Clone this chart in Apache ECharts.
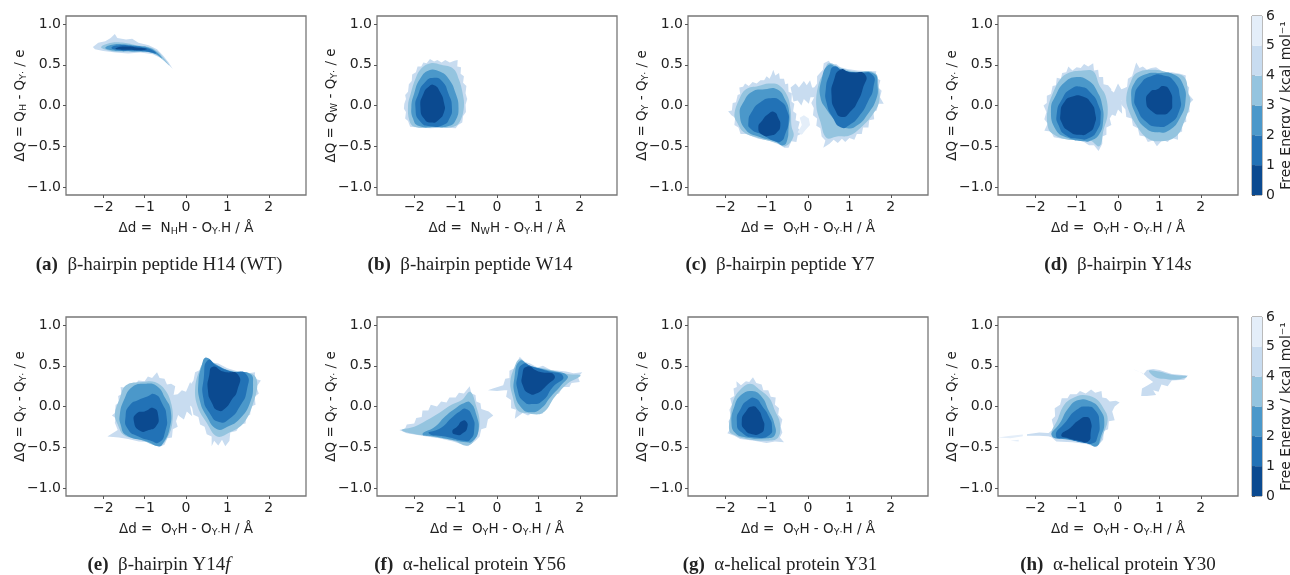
<!DOCTYPE html>
<html>
<head>
<meta charset="utf-8">
<script src="https://cdn.jsdelivr.net/npm/echarts@6/dist/echarts.min.js"></script>
<style>
html,body{margin:0;padding:0;background:#fff;overflow:hidden}
#main{width:1290px;height:575px}
#main canvas{filter:blur(.5px)}
</style>
</head>
<body>
<div id="main"></div>
<script>
// tick labels
const xTicks = [-2, -1, 0, 1, 2];
const yTicks = [-1, -0.5, 0, 0.5, 1];
const barTicks = [0, 1, 2, 3, 4, 5, 6];
// free energy bands, 0-1 first
const bandEdges = [0, 1, 2, 3, 4, 5, 6];
const bandColors = ['#0b4a90', '#2272b6', '#4b98ca', '#94c4df', '#c8dcf0', '#e4eef9'];

// (a) H14
const aL5 = [[-2.25,.72],[-2.12,.77],[-1.95,.79],[-1.82,.83],[-1.72,.88],[-1.66,.83],[-1.45,.81],[-1.3,.82],[-1.15,.77],[-.9,.74],[-.7,.69],[-.55,.61],[-.42,.53],[-.32,.45],[-.42,.5],[-.6,.58],[-.8,.63],[-1.1,.65],[-1.4,.64],[-1.7,.65],[-2,.67],[-2.2,.69]];
const aL4 = [[-2.05,.72],[-1.8,.77],[-1.5,.77],[-1.2,.74],[-.9,.72],[-.7,.67],[-.55,.59],[-.4,.49],[-.55,.56],[-.75,.63],[-1,.66],[-1.3,.66],[-1.6,.66],[-1.9,.68]];
const aL3 = [[-1.95,.71],[-1.75,.75],[-1.45,.75],[-1.15,.73],[-.9,.71],[-.72,.66],[-.58,.58],[-.75,.635],[-1,.66],[-1.3,.665],[-1.6,.67],[-1.8,.68]];
const aL2 = [[-1.8,.71],[-1.6,.74],[-1.3,.73],[-1,.71],[-.8,.675],[-.72,.64],[-.85,.655],[-1.05,.67],[-1.3,.675],[-1.6,.68]];
const aL1 = [[-1.7,.705],[-1.45,.725],[-1.15,.71],[-.95,.695],[-1.1,.68],[-1.4,.685],[-1.65,.69]];

// (b) W14
const bL5 = [[-2.24,.02],[-2.2,.08],[-2.22,.13],[-2.15,.17],[-2.13,.26],[-2.06,.3],[-2.05,.38],[-1.96,.41],[-1.92,.48],[-1.83,.48],[-1.78,.53],[-1.7,.52],[-1.62,.57],[-1.52,.54],[-1.44,.56],[-1.34,.53],[-1.25,.56],[-1.14,.53],[-1.03,.55],[-.95,.56],[-.96,.48],[-.87,.47],[-.88,.39],[-.8,.36],[-.82,.28],[-.74,.24],[-.76,.15],[-.72,.08],[-.76,.01],[-.75,-.08],[-.82,-.13],[-.84,-.21],[-.94,-.24],[-1,-.28],[-1.3,-.27],[-1.6,-.28],[-1.9,-.27],[-2.1,-.26],[-2.15,-.19],[-2.22,-.16],[-2.2,-.08],[-2.25,-.04]];
const bL4 = [[-2.15,0],[-2.1,.12],[-1.97,.33],[-1.82,.46],[-1.6,.52],[-1.35,.5],[-1.05,.45],[-.92,.32],[-.83,.15],[-.8,-.02],[-.9,-.2],[-1.05,-.26],[-1.5,-.27],[-2,-.26],[-2.12,-.18]];
const bL3 = [[-2.07,-.02],[-2,.15],[-1.87,.32],[-1.65,.43],[-1.4,.42],[-1.17,.33],[-1,.15],[-.93,-.03],[-1,-.18],[-1.15,-.25],[-1.5,-.265],[-1.9,-.25],[-2.03,-.16]];
const bL2 = [[-1.97,-.03],[-1.9,.14],[-1.75,.28],[-1.52,.34],[-1.33,.3],[-1.17,.14],[-1.09,-.02],[-1.15,-.16],[-1.3,-.24],[-1.6,-.255],[-1.85,-.2]];
const bL1 = [[-1.85,-.02],[-1.78,.14],[-1.65,.23],[-1.52,.25],[-1.38,.17],[-1.28,.03],[-1.28,-.08],[-1.42,-.18],[-1.58,-.21],[-1.75,-.17]];

// (c) Y7
const cL5Left = [[-1.93,-.07],[-1.84,-.06],[-1.82,.03],[-1.74,.04],[-1.7,.13],[-1.64,.14],[-1.66,.22],[-1.57,.23],[-1.52,.27],[-1.43,.24],[-1.34,.29],[-1.24,.27],[-1.15,.31],[-1.06,.31],[-1,.36],[-.93,.33],[-.88,.38],[-.84,.44],[-.79,.37],[-.7,.4],[-.68,.33],[-.58,.33],[-.55,.26],[-.48,.27],[-.47,.17],[-.39,.15],[-.4,.05],[-.33,.02],[-.36,-.07],[-.28,-.1],[-.3,-.18],[-.2,-.2],[-.24,-.28],[-.13,-.34],[-.25,-.37],[-.28,-.45],[-.4,-.44],[-.47,-.52],[-.57,-.52],[-.7,-.48],[-.95,-.43],[-1.2,-.41],[-1.5,-.35],[-1.63,-.35],[-1.68,-.27],[-1.78,-.24],[-1.76,-.15],[-1.85,-.12]];
const cL5Right = [[.5,.55],[.58,.5],[.68,.51],[.78,.47],[.95,.45],[1.2,.43],[1.45,.42],[1.65,.42],[1.63,.34],[1.75,.31],[1.7,.22],[1.78,.18],[1.74,.1],[1.83,.02],[1.7,.02],[1.66,-.06],[1.58,-.08],[1.6,-.17],[1.48,-.18],[1.46,-.27],[1.33,-.27],[1.3,-.35],[1.18,-.35],[1.12,-.42],[1,-.4],[.9,-.45],[.82,-.41],[.72,-.46],[.62,-.42],[.52,-.47],[.37,-.52],[.42,-.43],[.33,-.38],[.3,-.28],[.2,-.25],[.22,-.16],[.12,-.12],[.14,-.03],[.08,.03],[.15,.1],[.12,.2],[.22,.27],[.22,.36],[.36,.44],[.38,.52]];
const cBridgeTop = [[-.42,.22],[-.3,.27],[-.22,.22],[-.1,.3],[-.03,.25],[.05,.31],[.1,.22],[.18,.22],[.16,.1],[.06,.1],[.02,.02],[-.1,.08],[-.16,0],[-.25,.06],[-.35,.05]];
const cBridgeLow = [[-.2,-.15],[-.1,-.12],[.02,-.16],[.05,-.24],[-.06,-.3],[-.15,-.36],[-.25,-.33],[-.15,-.24]];
const cL4Left = [[-1.78,-.12],[-1.66,.08],[-1.5,.2],[-1.2,.24],[-.95,.27],[-.7,.25],[-.5,.12],[-.42,-.05],[-.4,-.25],[-.35,-.38],[-.55,-.5],[-.75,-.46],[-1.2,-.4],[-1.55,-.33],[-1.7,-.22]];
const cL4Right = [[.5,.52],[.8,.46],[1.1,.42],[1.62,.4],[1.7,.25],[1.72,.05],[1.55,-.12],[1.3,-.26],[1,-.37],[.7,-.38],[.45,-.4],[.3,-.2],[.2,0],[.25,.25],[.4,.42]];
const cL3Left = [[-1.65,-.1],[-1.55,.05],[-1.35,.17],[-1.05,.2],[-.75,.2],[-.55,.07],[-.45,-.1],[-.47,-.28],[-.5,-.42],[-.6,-.49],[-.8,-.44],[-1.2,-.38],[-1.5,-.3]];
const cL3Right = [[.5,.5],[.75,.45],[1.1,.41],[1.6,.39],[1.68,.25],[1.65,.08],[1.45,-.1],[1.2,-.24],[.95,-.28],[.7,-.2],[.45,-.05],[.3,.1],[.32,.3]];
const cL2Left = [[-1.44,-.2],[-1.35,-.07],[-1.15,.04],[-.9,.09],[-.65,.05],[-.5,-.07],[-.47,-.2],[-.55,-.35],[-.65,-.44],[-.8,-.44],[-1.1,-.36],[-1.38,-.29]];
const cL2Right = [[.63,.48],[.85,.43],[1.2,.4],[1.55,.38],[1.58,.22],[1.45,.05],[1.25,-.12],[1,-.24],[.8,-.27],[.6,-.15],[.45,.03],[.43,.2],[.52,.38]];
const cL1Left = [[-1.2,-.27],[-1.1,-.18],[-.95,-.1],[-.82,-.08],[-.72,-.15],[-.67,-.25],[-.75,-.33],[-.9,-.37],[-1.1,-.36]];
const cL1Right = [[.78,.44],[1,.41],[1.38,.38],[1.32,.2],[1.2,.05],[1.05,-.06],[.82,-.14],[.65,-.05],[.57,.12],[.62,.3]];

// (d) Y14s
const dL5Left = [[-1.8,0],[-1.72,.03],[-1.72,.12],[-1.62,.14],[-1.58,.24],[-1.5,.25],[-1.48,.34],[-1.38,.33],[-1.35,.4],[-1.25,.41],[-1.2,.48],[-1.1,.43],[-1,.47],[-.9,.46],[-.82,.51],[-.72,.48],[-.6,.52],[-.58,.43],[-.48,.44],[-.46,.35],[-.36,.35],[-.35,.26],[-.24,.25],[-.16,.2],[-.2,.12],[-.12,.07],[-.18,-.02],[-.13,-.1],[-.2,-.16],[-.16,-.24],[-.28,-.27],[-.28,-.36],[-.38,-.38],[-.38,-.47],[-.47,-.56],[-.58,-.49],[-.7,-.49],[-.85,-.44],[-1.1,-.42],[-1.35,-.41],[-1.55,-.39],[-1.62,-.32],[-1.78,-.31],[-1.7,-.22],[-1.78,-.17],[-1.73,-.08]];
const dL5Right = [[.44,.53],[.52,.46],[.6,.48],[.7,.44],[.8,.46],[.92,.47],[1.1,.41],[1.3,.41],[1.5,.39],[1.64,.37],[1.62,.27],[1.72,.22],[1.7,.14],[1.82,.07],[1.72,.02],[1.73,-.08],[1.64,-.1],[1.65,-.2],[1.55,-.22],[1.55,-.32],[1.45,-.34],[1.45,-.42],[1.3,-.4],[1.2,-.45],[1.08,-.42],[.94,-.5],[.85,-.43],[.72,-.45],[.65,-.38],[.52,-.37],[.48,-.28],[.36,-.25],[.33,-.16],[.2,-.14],[.18,-.05],[.05,.03],[.14,.1],[.12,.2],[.22,.23],[.24,.33],[.34,.36]];
const dBridge = [[-.4,.2],[-.28,.17],[-.2,.2],[-.1,.16],[0,.27],[.08,.2],[.2,.22],[.16,.04],[.08,.06],[.1,-.1],[0,-.05],[-.06,-.13],[-.2,-.1],[-.35,-.05]];
const dL4Left = [[-1.7,-.05],[-1.55,.18],[-1.4,.32],[-1.2,.4],[-.85,.43],[-.6,.42],[-.45,.25],[-.3,.12],[-.25,-.1],[-.35,-.3],[-.45,-.5],[-.7,-.42],[-1.2,-.42],[-1.6,-.34],[-1.7,-.25]];
const dL4Right = [[.45,.4],[.85,.44],[1.25,.4],[1.6,.35],[1.7,.15],[1.75,.05],[1.6,-.2],[1.4,-.38],[1,-.44],[.7,-.4],[.45,-.25],[.25,-.05],[.2,.1],[.3,.28]];
const dL3Left = [[-1.62,-.05],[-1.5,.13],[-1.3,.28],[-1,.35],[-.7,.3],[-.5,.17],[-.38,0],[-.36,-.2],[-.45,-.35],[-.65,-.43],[-.85,-.44],[-1.2,-.4],[-1.5,-.3]];
const dL3Right = [[.4,.28],[.65,.38],[1,.4],[1.35,.38],[1.58,.25],[1.63,.05],[1.5,-.15],[1.25,-.3],[.95,-.33],[.65,-.27],[.42,-.1],[.32,.1]];
const dL2Left = [[-1.48,-.1],[-1.35,.08],[-1.15,.2],[-.9,.23],[-.65,.15],[-.47,0],[-.42,-.15],[-.5,-.3],[-.7,-.4],[-.95,-.41],[-1.25,-.37],[-1.43,-.25]];
const dL2Right = [[.4,.1],[.55,.27],[.8,.36],[1.1,.37],[1.35,.3],[1.5,.1],[1.47,-.08],[1.25,-.22],[.95,-.26],[.68,-.2],[.47,-.05]];
const dL1Left = [[-1.39,-.1],[-1.3,.04],[-1.1,.11],[-.85,.11],[-.65,.03],[-.55,-.1],[-.56,-.22],[-.7,-.33],[-.95,-.36],[-1.2,-.31],[-1.35,-.22]];
const dL1Right = [[.68,.05],[.78,.17],[.95,.2],[1.1,.24],[1.25,.18],[1.31,.03],[1.25,-.07],[1.05,-.11],[.82,-.07]];

// (e) Y14f
const eL5Left = [[-1.79,-.11],[-1.72,-.08],[-1.7,.02],[-1.62,.04],[-1.64,.13],[-1.56,.15],[-1.58,.24],[-1.46,.23],[-1.38,.28],[-1.25,.26],[-1.15,.32],[-1,.31],[-.92,.37],[-.82,.35],[-.7,.42],[-.64,.35],[-.52,.34],[-.46,.27],[-.36,.28],[-.26,.25],[-.3,.14],[-.22,.08],[-.26,-.02],[-.18,-.09],[-.24,-.18],[-.2,-.25],[-.32,-.28],[-.34,-.38],[-.45,-.39],[-.52,-.47],[-.66,-.5],[-.85,-.44],[-1.14,-.43],[-1.4,-.4],[-1.62,-.38],[-1.9,-.37],[-1.65,-.29],[-1.72,-.2],[-1.7,-.14]];
const eL5Right = [[.47,.61],[.58,.58],[.64,.54],[.78,.53],[1,.47],[1.2,.44],[1.5,.41],[1.67,.42],[1.66,.34],[1.81,.32],[1.7,.24],[1.76,.16],[1.66,.12],[1.68,.02],[1.57,0],[1.55,-.1],[1.45,-.12],[1.44,-.21],[1.3,-.22],[1.22,-.3],[1.07,-.32],[1.05,-.42],[.95,-.49],[.87,-.41],[.78,-.48],[.68,-.42],[.62,-.49],[.62,-.37],[.5,-.34],[.45,-.25],[.34,-.22],[.3,-.13],[.18,-.1],[.15,-.02],[.05,.08],[.14,.15],[.1,.26],[.18,.32],[.22,.42],[.34,.45]];
const eBridge = [[-.32,.14],[-.2,.15],[-.1,.2],[0,.18],[.1,.3],[.2,.2],[.18,.05],[.1,0],[.15,-.12],[.02,-.06],[-.05,-.16],[-.16,-.12],[-.3,-.05]];
const eL4Left = [[-1.72,-.1],[-1.6,.1],[-1.45,.26],[-1.05,.3],[-.75,.3],[-.5,.2],[-.35,.02],[-.33,-.2],[-.45,-.38],[-.65,-.48],[-1.1,-.41],[-1.5,-.35],[-1.65,-.22]];
const eL4Right = [[.5,.58],[.75,.5],[1.1,.44],[1.6,.4],[1.72,.3],[1.65,.08],[1.4,-.2],[1.05,-.32],[.75,-.37],[.5,-.2],[.28,0],[.22,.22],[.33,.45]];
const eL3Left = [[-1.6,-.1],[-1.5,.08],[-1.3,.24],[-1,.28],[-.7,.25],[-.5,.1],[-.37,-.05],[-.4,-.28],[-.55,-.45],[-.65,-.49],[-.95,-.43],[-1.45,-.35],[-1.58,-.22]];
const eL3Right = [[.48,.6],[.72,.52],[1.1,.43],[1.55,.4],[1.62,.28],[1.55,.05],[1.3,-.15],[1,-.25],[.75,-.28],[.5,-.12],[.33,.08],[.3,.3],[.38,.5]];
const eL2Left = [[-1.46,-.12],[-1.35,.02],[-1.15,.08],[-.95,.12],[-.75,.15],[-.57,.03],[-.47,-.12],[-.5,-.3],[-.65,-.44],[-.85,-.42],[-1.15,-.37],[-1.4,-.28]];
const eL2Right = [[.53,.57],[.75,.5],[1.1,.43],[1.45,.4],[1.47,.2],[1.3,0],[1.05,-.15],[.8,-.19],[.57,-.08],[.42,.1],[.43,.35]];
const eL1Left = [[-1.26,-.18],[-1.18,-.08],[-1,-.06],[-.78,-.02],[-.67,-.12],[-.72,-.24],[-.9,-.29],[-1.1,-.3]];
const eL1Right = [[.65,.49],[.9,.43],[1.26,.39],[1.24,.2],[1.1,.08],[.95,-.02],[.78,-.05],[.62,.05],[.53,.2],[.56,.38]];

// (f) Y56
const fL5Left = [[-2.36,-.29],[-2.22,-.27],[-2.18,-.22],[-2,-.21],[-1.95,-.14],[-1.82,-.13],[-1.8,-.05],[-1.66,-.05],[-1.6,.02],[-1.45,0],[-1.35,.06],[-1.22,.05],[-1.15,.11],[-1,.11],[-.92,.17],[-.8,.16],[-.66,.25],[-.62,.16],[-.52,.14],[-.5,.06],[-.4,.04],[-.38,-.03],[-.2,-.06],[-.09,-.11],[-.22,-.16],[-.26,-.26],[-.38,-.28],[-.42,-.37],[-.52,-.42],[-.7,-.49],[-1.06,-.43],[-1.4,-.39],[-1.7,-.37],[-2.18,-.33]];
const fL5Right = [[.55,.61],[.66,.55],[.8,.53],[.98,.48],[1.11,.5],[1.3,.45],[1.5,.44],[1.67,.43],[1.85,.41],[2.06,.42],[1.96,.36],[2,.3],[1.8,.29],[1.75,.24],[1.58,.24],[1.5,.16],[1.36,.14],[1.3,.05],[1.15,.02],[1.1,-.09],[.9,-.06],[.75,-.11],[.62,-.08],[.43,-.15],[.46,-.04],[.34,-.02],[.34,.08],[.22,.12],[.25,.2],[.18,.2],[0,.19],[-.22,.2],[-.1,.22],[.15,.26],[.2,.34],[.3,.35],[.3,.44],[.42,.47]];
const fL4Left = [[-2.3,-.29],[-2,-.25],[-1.7,-.17],[-1.4,-.08],[-1.1,.02],[-.85,.08],[-.65,.18],[-.5,0],[-.42,-.2],[-.5,-.37],[-.7,-.48],[-1.05,-.42],[-1.6,-.37],[-2.1,-.33]];
const fL4Right = [[.55,.58],[.8,.5],[1.2,.46],[1.7,.4],[2.02,.38],[1.7,.28],[1.4,.12],[1.1,-.08],[.7,-.08],[.5,-.05],[.38,.12],[.32,.3],[.42,.48]];
const fL3Left = [[-1.8,-.34],[-1.5,-.25],[-1.25,-.12],[-1,-.02],[-.8,.04],[-.65,.05],[-.5,-.1],[-.45,-.3],[-.6,-.43],[-.75,-.44],[-1.1,-.41],[-1.5,-.37]];
const fL3Right = [[.55,.56],[.8,.5],[1.2,.45],[1.7,.38],[1.55,.26],[1.3,.12],[1.05,-.03],[.8,-.07],[.6,-.02],[.43,.15],[.42,.35]];
const fL2Left = [[-1.65,-.33],[-1.35,-.26],[-1.1,-.14],[-.9,-.06],[-.75,-.03],[-.6,-.12],[-.55,-.28],[-.65,-.41],[-.8,-.42],[-1.15,-.38]];
const fL2Right = [[.62,.52],[.85,.49],[1.2,.44],[1.6,.37],[1.35,.24],[1.1,.07],[.85,.03],[.65,.06],[.5,.2],[.5,.38]];
const fL1Left = [[-1.08,-.31],[-.95,-.24],[-.85,-.18],[-.75,-.18],[-.72,-.26],[-.83,-.33],[-.95,-.35]];
const fL1Right = [[.72,.49],[1,.43],[1.39,.38],[1.18,.25],[.95,.16],[.78,.16],[.63,.25],[.61,.38]];

// (g) Y31
const gL5 = [[-1.95,-.33],[-1.88,-.28],[-1.92,-.18],[-1.86,-.13],[-1.9,-.04],[-1.84,.02],[-1.88,.1],[-1.78,.13],[-1.8,.22],[-1.72,.24],[-1.73,.31],[-1.62,.26],[-1.5,.31],[-1.42,.3],[-1.33,.36],[-1.25,.29],[-1.12,.27],[-1.08,.2],[-.96,.2],[-.9,.12],[-.78,.11],[-.8,.02],[-.7,-.02],[-.72,-.1],[-.62,-.16],[-.66,-.25],[-.62,-.32],[-.68,-.38],[-.58,-.44],[-.8,-.43],[-1,-.45],[-1.3,-.42],[-1.64,-.4],[-1.78,-.36]];
const gL4 = [[-1.9,-.3],[-1.87,-.1],[-1.8,.08],[-1.65,.2],[-1.4,.28],[-1.15,.2],[-.93,.1],[-.8,-.05],[-.68,-.2],[-.72,-.38],[-1,-.42],[-1.5,-.4],[-1.78,-.35]];
const gL3 = [[-1.85,-.2],[-1.78,0],[-1.62,.14],[-1.35,.19],[-1.12,.12],[-.95,-.05],[-.82,-.2],[-.8,-.35],[-1,-.39],[-1.5,-.38],[-1.75,-.33]];
const gL2 = [[-1.72,-.18],[-1.62,-.02],[-1.45,.08],[-1.28,.1],[-1.1,0],[-.94,-.13],[-.87,-.25],[-.93,-.35],[-1.25,-.38],[-1.6,-.32]];
const gL1 = [[-1.6,-.18],[-1.5,-.06],[-1.35,0],[-1.22,-.03],[-1.1,-.15],[-1.06,-.26],[-1.15,-.33],[-1.35,-.34],[-1.52,-.29]];

// (h) Y30
const hL5Left = [[-1.73,-.35],[-1.55,-.27],[-1.6,-.16],[-1.52,-.12],[-1.53,-.02],[-1.4,.02],[-1.36,.1],[-1.22,.1],[-1.16,.15],[-1,.15],[-.92,.19],[-.78,.16],[-.65,.21],[-.55,.17],[-.4,.19],[-.38,.11],[-.28,.1],[-.2,.06],[-.05,.07],[.04,.05],[-.08,0],[-.14,-.06],[-.08,-.17],[-.22,-.18],[-.24,-.28],[-.34,-.3],[-.36,-.41],[-.52,-.5],[-.76,-.46],[-1.1,-.44],[-1.49,-.43],[-1.6,-.38]];
const hTailFar = [[-2.9,-.38],[-2.6,-.36],[-2.3,-.345],[-2.3,-.365],[-2.6,-.39]];
const hTailNear = [[-2.2,-.34],[-1.9,-.32],[-1.6,-.33],[-1.6,-.37],[-1.9,-.36],[-2.2,-.36]];
const hTailLow = [[-2.6,-.42],[-2.4,-.41],[-2.4,-.43]];
const hL5Top = [[.36,.46],[.5,.43],[.62,.4],[.7,.45],[.85,.46],[1,.45],[1.3,.4],[1.69,.38],[1.6,.33],[1.3,.32],[1.2,.25],[1.05,.27],[.98,.18],[.85,.2],[.92,.14],[.7,.13],[.56,.13],[.58,.22],[.72,.26],[.85,.3],[.72,.35],[.6,.41],[.45,.44]];
const hL4Left = [[-1.6,-.35],[-1.45,-.15],[-1.3,.02],[-1.1,.1],[-.85,.14],[-.55,.1],[-.35,-.02],[-.25,-.15],[-.35,-.33],[-.5,-.48],[-.75,-.45],[-1.2,-.4]];
const hL4Top = [[.75,.44],[1,.43],[1.3,.39],[1.67,.37],[1.4,.33],[1.1,.34],[.9,.36]];
const hL3 = [[-1.6,-.36],[-1.4,-.2],[-1.2,-.02],[-.95,.08],[-.65,.06],[-.42,-.05],[-.33,-.2],[-.42,-.38],[-.52,-.49],[-.75,-.45],[-1.2,-.41]];
const hL2 = [[-1.5,-.36],[-1.25,-.18],[-1,-.04],[-.75,0],[-.55,-.05],[-.45,-.2],[-.5,-.38],[-.6,-.45],[-.8,-.45],[-1.2,-.4]];
const hL1 = [[-1.37,-.35],[-1.15,-.26],[-.95,-.17],[-.77,-.13],[-.66,-.18],[-.66,-.32],[-.72,-.43],[-.95,-.42],[-1.2,-.39]];

// outlines painted from the outer band in, second value is the index in bandColors
const panels = [
  {layers: [[aL5,4],[aL4,3],[aL3,2],[aL2,1],[aL1,0]], left: 66, top: 16, xName: '{t|Δd =  N}{s|H}{t|H - O}{s|Y·}{t|H / Å}', yName: '{t|ΔQ = Q}{s|H}{t| - Q}{s|Y·}{t| / e}', cap: '{b|(a)}  β-hairpin peptide H14 (WT)', capX: 159},
  {layers: [[bL5,4],[bL4,3],[bL3,2],[bL2,1],[bL1,0]], left: 377, top: 16, xName: '{t|Δd =  N}{s|W}{t|H - O}{s|Y·}{t|H / Å}', yName: '{t|ΔQ = Q}{s|W}{t| - Q}{s|Y·}{t| / e}', cap: '{b|(b)}  β-hairpin peptide W14', capX: 470},
  {layers: [[cL5Left,4],[cL5Right,4],[cBridgeTop,4],[cBridgeLow,5],[cL4Left,3],[cL4Right,3],[cL3Left,2],[cL3Right,2],[cL2Left,1],[cL2Right,1],[cL1Left,0],[cL1Right,0]], left: 688, top: 16, xName: '{t|Δd =  O}{s|Y}{t|H - O}{s|Y·}{t|H / Å}', yName: '{t|ΔQ = Q}{s|Y}{t| - Q}{s|Y·}{t| / e}', cap: '{b|(c)}  β-hairpin peptide Y7', capX: 780},
  {layers: [[dL5Left,4],[dL5Right,4],[dBridge,4],[dL4Left,3],[dL4Right,3],[dL3Left,2],[dL3Right,2],[dL2Left,1],[dL2Right,1],[dL1Left,0],[dL1Right,0]], left: 998, top: 16, xName: '{t|Δd =  O}{s|Y}{t|H - O}{s|Y·}{t|H / Å}', yName: '{t|ΔQ = Q}{s|Y}{t| - Q}{s|Y·}{t| / e}', cap: '{b|(d)}  β-hairpin Y14{i|s}', capX: 1118},
  {layers: [[eL5Left,4],[eL5Right,4],[eBridge,4],[eL4Left,3],[eL4Right,3],[eL3Left,2],[eL3Right,2],[eL2Left,1],[eL2Right,1],[eL1Left,0],[eL1Right,0]], left: 66, top: 317, xName: '{t|Δd =  O}{s|Y}{t|H - O}{s|Y·}{t|H / Å}', yName: '{t|ΔQ = Q}{s|Y}{t| - Q}{s|Y·}{t| / e}', cap: '{b|(e)}  β-hairpin Y14{i|f}', capX: 159},
  {layers: [[fL5Left,4],[fL5Right,4],[fL4Left,3],[fL4Right,3],[fL3Left,2],[fL3Right,2],[fL2Left,1],[fL2Right,1],[fL1Left,0],[fL1Right,0]], left: 377, top: 317, xName: '{t|Δd =  O}{s|Y}{t|H - O}{s|Y·}{t|H / Å}', yName: '{t|ΔQ = Q}{s|Y}{t| - Q}{s|Y·}{t| / e}', cap: '{b|(f)}  α-helical protein Y56', capX: 470},
  {layers: [[gL5,4],[gL4,3],[gL3,2],[gL2,1],[gL1,0]], left: 688, top: 317, xName: '{t|Δd =  O}{s|Y}{t|H - O}{s|Y·}{t|H / Å}', yName: '{t|ΔQ = Q}{s|Y}{t| - Q}{s|Y·}{t| / e}', cap: '{b|(g)}  α-helical protein Y31', capX: 780},
  {layers: [[hL5Left,4],[hTailFar,5],[hTailNear,4],[hTailLow,5],[hL5Top,4],[hL4Left,3],[hL4Top,3],[hL3,2],[hL2,1],[hL1,0]], left: 998, top: 317, xName: '{t|Δd =  O}{s|Y}{t|H - O}{s|Y·}{t|H / Å}', yName: '{t|ΔQ = Q}{s|Y}{t| - Q}{s|Y·}{t| / e}', cap: '{b|(h)}  α-helical protein Y30', capX: 1118}
];

const textColor = '#222';
const spineColor = '#777';
const sansFont = '"DejaVu Sans"';
const subRich = {
  t: {fontFamily: sansFont, fontSize: 13.5, color: textColor},
  s: {fontFamily: sansFont, fontSize: 9.5, color: textColor, padding: [8, 0, 0, 0]}
};
// outer bands stay rough, the inner ones are round
const bandSmooth = [0.6, 0.6, 0.5, 0.4, 0, 0];

const myChart = echarts.init(document.getElementById('main'));

const grids = [], xAxes = [], yAxes = [], series = [], graphics = [];

function tickAxis(values) {
  return {
    axisLine: {show: false, onZero: false},
    axisTick: {show: true, length: 3, lineStyle: {color: '#555'}, customValues: values},
    splitLine: {show: false},
    axisLabel: {
      customValues: values,
      fontFamily: sansFont, fontSize: 14, color: textColor, margin: 5,
      formatter: v => String(v).replace('-', '−')
    }
  };
}

panels.forEach((p, i) => {
  grids.push({left: p.left, top: p.top, width: 240, height: 179, show: true, borderColor: spineColor, borderWidth: 1.3, backgroundColor: '#fff', outerBoundsMode: 'none'});
  xAxes.push(Object.assign(tickAxis(xTicks), {
    gridIndex: i, type: 'value', position: 'bottom', min: -2.9, max: 2.9,
    name: p.xName, nameLocation: 'middle', nameGap: 24, nameMoveOverlap: false, nameTextStyle: {rich: subRich}
  }));
  const yAxis = tickAxis(yTicks);
  yAxis.axisLabel.formatter = v => v.toFixed(1).replace('-', '−');
  yAxes.push(Object.assign(yAxis, {
    gridIndex: i, type: 'value', position: 'left', min: -1.1, max: 1.1,
    name: p.yName, nameLocation: 'middle', nameRotate: 90, nameGap: 37, nameMoveOverlap: false, nameTextStyle: {rich: subRich}
  }));
  series.push({
    type: 'custom', xAxisIndex: i, yAxisIndex: i, silent: true, clip: true,
    data: p.layers.map((l, k) => [k]),
    renderItem: (params, api) => {
      const layer = p.layers[params.dataIndex];
      return {
        type: 'polygon',
        shape: {points: layer[0].map(pt => api.coord(pt)), smooth: bandSmooth[layer[1]]},
        style: {fill: bandColors[layer[1]]}
      };
    }
  });
  graphics.push({
    type: 'text', silent: true,
    style: {
      x: p.capX, y: p.top === 16 ? 265 : 565, align: 'center', verticalAlign: 'middle',
      text: p.cap, fontFamily: 'Liberation Serif', fontSize: 19, fill: '#222',
      rich: {
        b: {fontFamily: 'Liberation Serif', fontSize: 19, fontWeight: 'bold', fill: '#222'},
        i: {fontFamily: 'Liberation Serif', fontSize: 19, fontStyle: 'italic', fill: '#222'}
      }
    }
  });
});

// colour bars next to the last column
[16, 317].forEach(top => {
  const i = grids.length;
  grids.push({left: 1252, top: top, width: 10, height: 179, show: true, borderColor: spineColor, borderWidth: 1, outerBoundsMode: 'none'});
  xAxes.push({gridIndex: i, type: 'value', min: 0, max: 1, show: false});
  yAxes.push({
    gridIndex: i, type: 'value', position: 'right', min: 0, max: 6, interval: 1,
    axisLine: {show: false},
    axisTick: {show: true, length: 3, lineStyle: {color: '#555'}},
    splitLine: {show: false},
    axisLabel: {fontFamily: sansFont, fontSize: 14, color: textColor, margin: 4, customValues: barTicks},
    name: 'Free Energy / kcal mol⁻¹', nameLocation: 'middle', nameRotate: 90, nameGap: 17, nameMoveOverlap: false,
    nameTextStyle: {fontFamily: sansFont, fontSize: 14, color: textColor}
  });
  series.push({
    type: 'custom', xAxisIndex: i, yAxisIndex: i, silent: true,
    data: bandColors.map((c, k) => [k]),
    renderItem: (params, api) => {
      const k = params.dataIndex;
      const a = api.coord([0, bandEdges[k]]);
      const b = api.coord([1, bandEdges[k + 1]]);
      return {
        type: 'rect',
        shape: {x: a[0], y: b[1], width: b[0] - a[0], height: a[1] - b[1]},
        style: {fill: bandColors[k]}
      };
    }
  });
});

myChart.setOption({
  animation: false,
  grid: grids,
  xAxis: xAxes,
  yAxis: yAxes,
  series: series,
  graphic: {elements: graphics}
});
</script>
</body>
</html>
